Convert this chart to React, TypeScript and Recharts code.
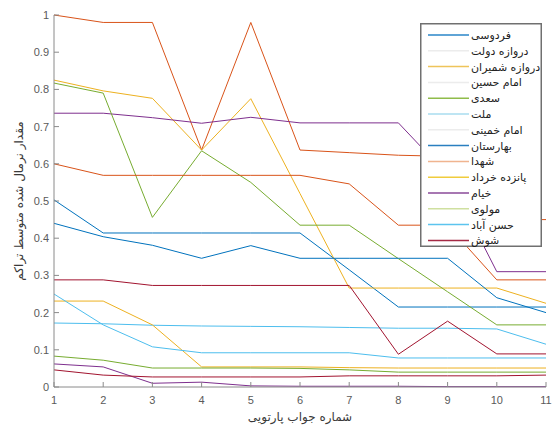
import React from "react";
import { LineChart, Line, XAxis, YAxis, Legend } from "recharts";

// Pareto solution index on the x axis
const SOLUTIONS = [1, 2, 3, 4, 5, 6, 7, 8, 9, 10, 11];
const Y_TICKS = [0, 0.1, 0.2, 0.3, 0.4, 0.5, 0.6, 0.7, 0.8, 0.9, 1];

const STATIONS = [
  "فردوسی",
  "دروازه دولت",
  "دروازه شمیران",
  "امام حسین",
  "سعدی",
  "ملت",
  "امام خمینی",
  "بهارستان",
  "شهدا",
  "پانزده خرداد",
  "خیام",
  "مولوی",
  "حسن آباد",
  "شوش",
];

// normalized average congestion per station, one value per solution
const ferdowsi = [0.503, 0.414, 0.414, 0.414, 0.414, 0.414, 0.315, 0.215, 0.215, 0.215, 0.215];
const darvazehDolat = [1.0, 0.98, 0.98, 0.637, 0.98, 0.637, 0.63, 0.623, 0.62, 0.45, 0.45];
const darvazehShemiran = [0.825, 0.796, 0.776, 0.637, 0.775, 0.52, 0.266, 0.266, 0.266, 0.266, 0.225];
const imamHossein = [0.736, 0.736, 0.724, 0.709, 0.725, 0.71, 0.71, 0.71, 0.57, 0.31, 0.31];
const saadi = [0.817, 0.79, 0.456, 0.635, 0.55, 0.435, 0.435, 0.345, 0.256, 0.167, 0.167];
const mellat = [0.172, 0.17, 0.166, 0.164, 0.163, 0.162, 0.16, 0.158, 0.158, 0.156, 0.115];
const imamKhomeini = [0.288, 0.288, 0.273, 0.273, 0.273, 0.273, 0.273, 0.088, 0.177, 0.089, 0.089];
const baharestan = [0.44, 0.404, 0.381, 0.346, 0.38, 0.346, 0.346, 0.346, 0.346, 0.24, 0.2];
const shohada = [0.6, 0.569, 0.569, 0.569, 0.569, 0.569, 0.546, 0.435, 0.435, 0.288, 0.288];
const panzdahKhordad = [0.231, 0.231, 0.167, 0.054, 0.054, 0.054, 0.052, 0.051, 0.051, 0.051, 0.051];
const khayyam = [0.062, 0.054, 0.01, 0.013, 0.003, 0.002, 0.002, 0.002, 0.001, 0.001, 0.001];
const molavi = [0.083, 0.072, 0.051, 0.051, 0.051, 0.05, 0.046, 0.04, 0.04, 0.04, 0.04];
const hassanAbad = [0.25, 0.167, 0.108, 0.092, 0.092, 0.092, 0.092, 0.078, 0.078, 0.078, 0.078];
const shush = [0.046, 0.032, 0.027, 0.027, 0.027, 0.027, 0.03, 0.03, 0.03, 0.03, 0.032];

const SERIES = [
  ferdowsi, darvazehDolat, darvazehShemiran, imamHossein, saadi, mellat, imamKhomeini,
  baharestan, shohada, panzdahKhordad, khayyam, molavi, hassanAbad, shush,
];

// matlab default line order
const COLORS = ["#0072BD", "#D95319", "#EDB120", "#7E2F8E", "#77AC30", "#4DBEEE", "#A2142F"];

// what the legend swatches look like in the (washed out) original
const LEGEND_COLORS = [
  "#2a86c8", "#ececec", "#eec45a", "#ececec", "#8fbc4a", "#a8dcef", "#ececec",
  "#2a7fc0", "#f0b48f", "#f0cc3c", "#8a4a98", "#cfe0a0", "#5cc4ee", "#a52a45",
];

const data = SOLUTIONS.map((x, i) => {
  const row: Record<string, number> = { x };
  SERIES.forEach((s, k) => {
    row[`s${k}`] = s[i];
  });
  return row;
});

const AXIS = "#8a8a8a";
const TICK_TEXT = "#5a5a5a";
const FONT = "'Liberation Sans', Arial, sans-serif";
const FA_FONT = "'DejaVu Sans', sans-serif";

const LEGEND_W = 122;
const LEGEND_H = 224;
const ROW_H = 15.8;

const BottomTick = (props: any) => {
  const { x, y, payload } = props;
  return (
    <g>
      <line x1={x} y1={y} x2={x} y2={y - 5} stroke={AXIS} />
      <text x={x} y={y + 17} textAnchor="middle" fontSize={11} fill={TICK_TEXT} fontFamily={FONT}>
        {payload.value}
      </text>
    </g>
  );
};

const LeftTick = (props: any) => {
  const { x, y, payload } = props;
  return (
    <g>
      <line x1={x} y1={y} x2={x + 5} y2={y} stroke={AXIS} />
      <text x={x - 5} y={y + 4} textAnchor="end" fontSize={11} fill={TICK_TEXT} fontFamily={FONT}>
        {payload.value}
      </text>
    </g>
  );
};

const TopTick = (props: any) => {
  const { x, y } = props;
  return <line x1={x} y1={y} x2={x} y2={y + 5} stroke={AXIS} />;
};

const RightTick = (props: any) => {
  const { x, y } = props;
  return <line x1={x} y1={y} x2={x - 5} y2={y} stroke={AXIS} />;
};

// drawn as svg so the rtl labels can't flip the row order
const LegendBox = () => (
  <svg width={LEGEND_W} height={LEGEND_H} style={{ display: "block" }}>
    <rect x={0.75} y={0.75} width={LEGEND_W - 1.5} height={LEGEND_H - 1.5} fill="#fff" stroke="#707070" strokeWidth={1.5} />
    {STATIONS.map((name, k) => {
      const cy = 12 + k * ROW_H;
      return (
        <g key={name}>
          <line x1={8} x2={49} y1={cy} y2={cy} stroke={LEGEND_COLORS[k]} strokeWidth={1.5} />
          <text x={51} y={cy + 4} fontSize={11} fontFamily={FA_FONT} fill="#222" textAnchor="start" direction="ltr">
            {name}
          </text>
        </g>
      );
    })}
  </svg>
);

export default function App() {
  return (
    <div style={{ position: "absolute", left: 0, top: 0, width: 557, height: 429, background: "#fff" }}>
      <LineChart
        width={557}
        height={429}
        data={data}
        margin={{ top: 15, right: 11, bottom: 0, left: 24 }}
      >
        <XAxis
          dataKey="x"
          type="number"
          domain={[1, 11]}
          ticks={SOLUTIONS}
          tickSize={0}
          tickMargin={0}
          tickLine={false}
          tick={<BottomTick />}
          axisLine={{ stroke: AXIS }}
          height={42}
          label={{
            value: "شماره جواب پارتویی",
            position: "insideBottom",
            offset: 8,
            style: { fontSize: 12, fontFamily: FA_FONT, fill: "#3a3a3a" },
          }}
        />
        <XAxis
          xAxisId="top"
          dataKey="x"
          type="number"
          orientation="top"
          domain={[1, 11]}
          ticks={SOLUTIONS}
          tickSize={0}
          tickMargin={0}
          tickLine={false}
          tick={<TopTick />}
          axisLine={{ stroke: AXIS }}
          height={0}
        />
        <YAxis
          type="number"
          domain={[0, 1]}
          ticks={Y_TICKS}
          tickSize={0}
          tickMargin={0}
          tickLine={false}
          tick={<LeftTick />}
          axisLine={{ stroke: AXIS }}
          width={30}
          label={{
            value: "مقدار نرمال شده متوسط تراکم",
            angle: -90,
            position: "insideLeft",
            offset: -5,
            style: { fontSize: 12, fontFamily: FA_FONT, fill: "#3a3a3a", textAnchor: "middle" },
          }}
        />
        <YAxis
          yAxisId="r"
          type="number"
          orientation="right"
          domain={[0, 1]}
          ticks={Y_TICKS}
          tickSize={0}
          tickMargin={0}
          tickLine={false}
          tick={<RightTick />}
          axisLine={{ stroke: AXIS }}
          width={0}
        />
        {SERIES.map((_, k) => (
          <Line
            key={k}
            type="linear"
            dataKey={`s${k}`}
            name={STATIONS[k]}
            stroke={COLORS[k % COLORS.length]}
            strokeWidth={1}
            dot={false}
            isAnimationActive={false}
          />
        ))}
        <Legend
          layout="vertical"
          align="center"
          verticalAlign="middle"
          content={() => <LegendBox />}
          wrapperStyle={{ left: 420, top: 23, width: LEGEND_W, height: LEGEND_H }}
        />
      </LineChart>
    </div>
  );
}
